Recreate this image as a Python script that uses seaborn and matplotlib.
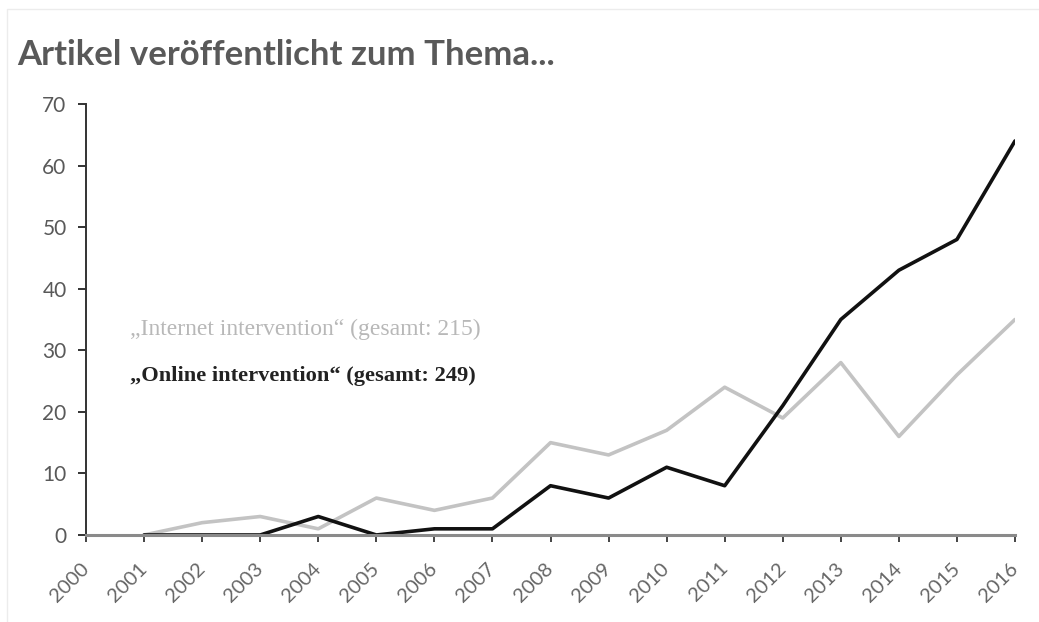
import numpy as np
import pandas as pd
import matplotlib
matplotlib.use("Agg")
import matplotlib.pyplot as plt
import seaborn as sns

years = list(range(2000, 2017))
internet = [np.nan, 0, 2, 3, 1, 6, 4, 6, 15, 13, 17, 24, 19, 28, 16, 26, 35]
online = [np.nan, 0, 0, 0, 3, 0, 1, 1, 8, 6, 11, 8, 21, 35, 43, 48, 64]
series_names = ["Internet intervention", "Online intervention"]
legend_labels = ["\u201eInternet intervention\u201c (gesamt: 215)",
                 "\u201eOnline intervention\u201c (gesamt: 249)"]
title = "Artikel veröffentlicht zum Thema..."

df = pd.DataFrame({
    "Jahr": years * 2,
    "Artikel": internet + online,
    "Serie": [series_names[0]] * len(years) + [series_names[1]] * len(years),
})

sns.set_style("white")
plt.rcParams["font.family"] = ["Lato", "DejaVu Sans"]

fig = plt.figure(figsize=(10.39, 6.22), dpi=100)
ax = fig.add_axes([0.0828, 0.1399, 0.8941, 0.6929])

sns.lineplot(data=df, x="Jahr", y="Artikel", hue="Serie",
             palette={series_names[0]: "#c3c3c3", series_names[1]: "#111111"},
             linewidth=2.6, ax=ax, legend=False)

ax.set_xlim(2000, 2016)
ax.set_ylim(0, 70)
ax.set_xticks(years)
ax.set_xticklabels([str(y) for y in years], rotation=45, ha="right", va="center",
                   rotation_mode="anchor", fontsize=14.5, color="#666666")
ax.set_yticks(range(0, 71, 10))
ax.tick_params(axis="y", labelsize=15, labelcolor="#595959", length=6,
               width=1.4, color="#333333", left=True, pad=8)
ax.tick_params(axis="x", length=5, width=1.4, color="#444444", bottom=True, pad=17)
ax.set_xlabel("")
ax.set_ylabel("")

for s in ["top", "right"]:
    ax.spines[s].set_visible(False)
ax.spines["left"].set_color("#333333")
ax.spines["left"].set_linewidth(1.4)
ax.spines["bottom"].set_color("#8a8a8a")
ax.spines["bottom"].set_linewidth(2.2)

ax.text(2000.75, 33.4, legend_labels[0], fontsize=17,
        family=["Liberation Serif"], color="#b8b8b8", va="center")
ax.text(2000.75, 25.8, legend_labels[1], fontsize=16.2, fontweight="bold",
        family=["Liberation Serif"], color="#222222", va="center")

fig.text(0.017, 0.912, title, fontsize=25, fontweight="bold", color="#595959",
         va="center", ha="left")

frame = plt.Rectangle((0.007, -0.01), 1.1, 0.995, transform=fig.transFigure,
                      fill=False, edgecolor="#ececec", linewidth=1.0)
fig.patches.append(frame)

fig.savefig("out.png", dpi=100, facecolor="white")
